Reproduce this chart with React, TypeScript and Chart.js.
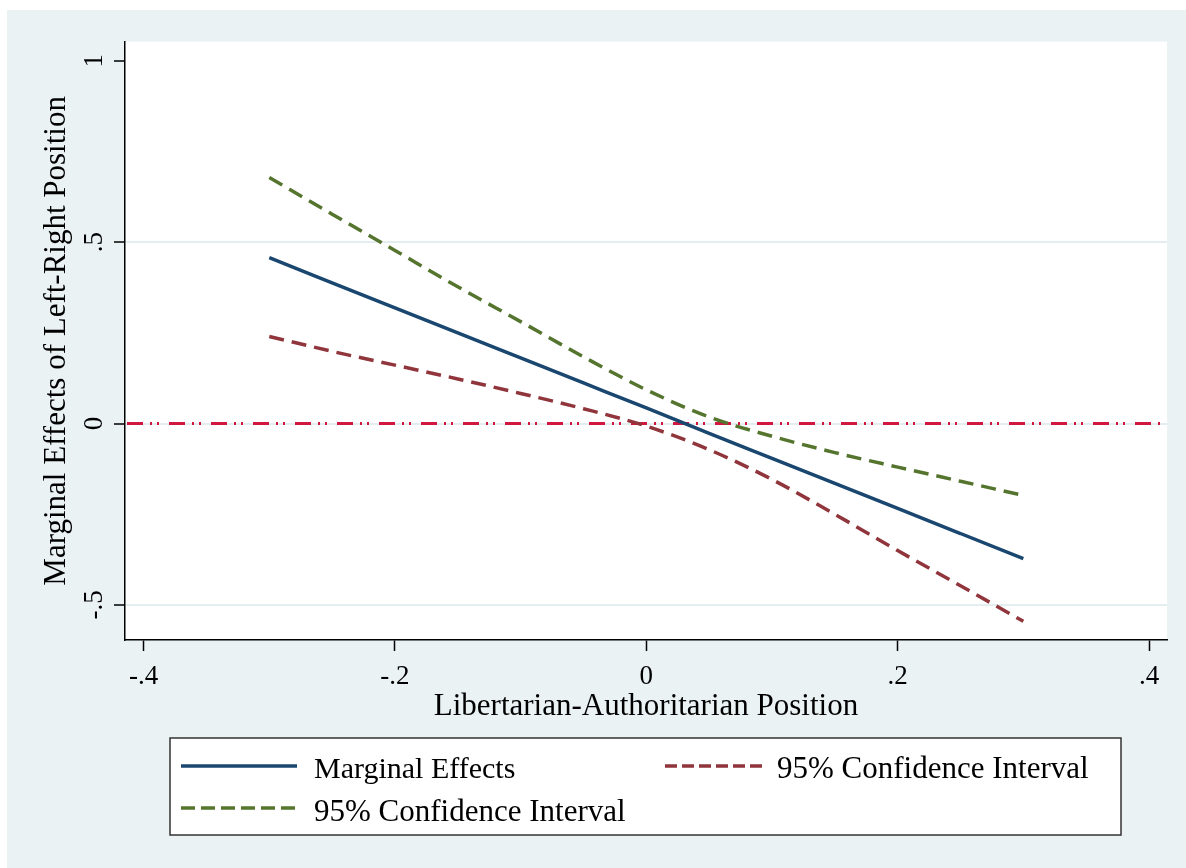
import React, { useEffect, useRef } from "react";
import { Chart, registerables } from "chart.js";

Chart.register(...registerables);

// ---- data ----
const xValues = [-0.3, -0.25, -0.2, -0.15, -0.1, -0.05, 0, 0.05, 0.1, 0.15, 0.2, 0.25, 0.3];
const marginalEffects = [0.457, 0.388, 0.319, 0.25, 0.181, 0.112, 0.043, -0.027, -0.096, -0.165, -0.234, -0.303, -0.372];
const upperCI = [0.678, 0.577, 0.477, 0.377, 0.281, 0.184, 0.093, 0.018, -0.035, -0.08, -0.12, -0.159, -0.198];
const lowerCI = [0.24, 0.199, 0.161, 0.123, 0.083, 0.041, -0.007, -0.072, -0.154, -0.25, -0.35, -0.447, -0.545];

const xTicks = [-0.4, -0.2, 0, 0.2, 0.4];
const xTickLabels = ["-.4", "-.2", "0", ".2", ".4"];
const yTicks = [-0.5, 0, 0.5, 1];
const yTickLabels = ["-.5", "0", ".5", "1"];

const xTitle = "Libertarian-Authoritarian Position";
const yTitle = "Marginal Effects of Left-Right Position";
const seriesLabels = ["Marginal Effects", "95% Confidence Interval", "95% Confidence Interval"];

// ---- styles ----
const FONT = '"Liberation Serif", "Times New Roman", serif';
const BG = "#eaf2f3";
const GRID = "#e4eef0";
const BLUE = "#1a476f";
const RED = "#90353b";
const GREEN = "#55752f";
const ZERO = "#d2173e";
const X_MIN = -0.4148;
const X_MAX = 0.4143;
const Y_MIN = -0.5965;
const Y_MAX = 1.0524;
const LW = 3.5;

const toPoints = (ys: number[]) => xValues.map((x, i) => ({ x, y: ys[i] }));

export default function App() {
  const ref = useRef<HTMLCanvasElement | null>(null);

  useEffect(() => {
    const canvas = ref.current;
    if (!canvas) return;

    const bgPlugin = {
      id: "plotBg",
      beforeDraw(chart: any) {
        const { ctx, chartArea } = chart;
        ctx.save();
        ctx.fillStyle = "#ffffff";
        ctx.fillRect(chartArea.left, chartArea.top, chartArea.right - chartArea.left, chartArea.bottom - chartArea.top);
        ctx.restore();
      },
    };

    const zeroLinePlugin = {
      id: "zeroLine",
      beforeDatasetsDraw(chart: any) {
        const { ctx, chartArea, scales } = chart;
        const y = scales.y.getPixelForValue(0);
        ctx.save();
        ctx.strokeStyle = ZERO;
        ctx.lineWidth = 3;
        ctx.setLineDash([16, 7, 2, 5, 2, 10]);
        ctx.beginPath();
        ctx.moveTo(chartArea.left + 2, y);
        ctx.lineTo(chartArea.right - 3, y);
        ctx.stroke();
        ctx.restore();
      },
    };

    const yLabelPlugin = {
      id: "yLabels",
      afterDraw(chart: any) {
        const { ctx, scales } = chart;
        ctx.save();
        ctx.fillStyle = "#000";
        ctx.font = `27px ${FONT}`;
        ctx.textAlign = "center";
        ctx.textBaseline = "alphabetic";
        yTicks.forEach((v, i) => {
          const y = scales.y.getPixelForValue(v);
          ctx.save();
          ctx.translate(95, y);
          ctx.rotate(-Math.PI / 2);
          ctx.fillText(yTickLabels[i], 0, 0);
          ctx.restore();
        });
        ctx.restore();
      },
    };

    const legendPlugin = {
      id: "customLegend",
      afterDraw(chart: any) {
        const { ctx } = chart;
        ctx.save();
        ctx.fillStyle = "#ffffff";
        ctx.fillRect(163, 728, 951, 97);
        ctx.strokeStyle = "#333333";
        ctx.lineWidth = 1.5;
        ctx.strokeRect(163, 728, 951, 97);

        const drawSample = (x1: number, x2: number, y: number, color: string, dash: number[]) => {
          ctx.save();
          ctx.strokeStyle = color;
          ctx.lineWidth = LW;
          ctx.setLineDash(dash);
          ctx.beginPath();
          ctx.moveTo(x1, y);
          ctx.lineTo(x2, y);
          ctx.stroke();
          ctx.restore();
        };
        drawSample(174, 290, 756, BLUE, []);
        drawSample(658, 755, 756, RED, [12, 5]);
        drawSample(174, 290, 798, GREEN, [14, 6]);

        ctx.fillStyle = "#000";
        ctx.font = `30px ${FONT}`;
        ctx.textAlign = "left";
        ctx.textBaseline = "alphabetic";
        ctx.fillText(seriesLabels[0], 307, 768);
        ctx.font = `31px ${FONT}`;
        ctx.fillText(seriesLabels[1], 770, 768);
        ctx.fillText(seriesLabels[2], 307, 811);
        ctx.restore();
      },
    };

    const chart = new Chart(canvas, {
      type: "line",
      data: {
        datasets: [
          {
            label: seriesLabels[0],
            data: toPoints(marginalEffects),
            borderColor: BLUE,
            borderWidth: LW,
            pointRadius: 0,
            cubicInterpolationMode: "monotone",
            fill: false,
          },
          {
            label: seriesLabels[1],
            data: toPoints(lowerCI),
            borderColor: RED,
            borderWidth: LW,
            borderDash: [15, 8],
            pointRadius: 0,
            cubicInterpolationMode: "monotone",
            fill: false,
          },
          {
            label: seriesLabels[2],
            data: toPoints(upperCI),
            borderColor: GREEN,
            borderWidth: LW,
            borderDash: [15, 8],
            pointRadius: 0,
            cubicInterpolationMode: "monotone",
            fill: false,
          },
        ],
      },
      options: {
        animation: false,
        responsive: false,
        maintainAspectRatio: false,
        devicePixelRatio: 1,
        layout: { padding: { top: 31.7, right: 19, left: 0, bottom: 0 } },
        plugins: {
          legend: { display: false },
          tooltip: { enabled: false },
        },
        scales: {
          x: {
            type: "linear",
            min: X_MIN,
            max: X_MAX,
            afterBuildTicks: (s: any) => {
              s.ticks = xTicks.map((v) => ({ value: v }));
            },
            afterFit: (s: any) => {
              s.height = 228;
            },
            grid: {
              drawOnChartArea: false,
              drawTicks: true,
              tickLength: 11,
              tickColor: "#000",
              tickWidth: 1.5,
              color: "#000",
            },
            border: { display: true, color: "#000", width: 1.5 },
            ticks: {
              color: "#000",
              font: { family: FONT, size: 27 },
              padding: 10,
              maxRotation: 0,
              minRotation: 0,
              autoSkip: false,
              callback: (_v: any, i: number) => xTickLabels[i],
            },
            title: {
              display: true,
              text: xTitle,
              color: "#000",
              font: { family: FONT, size: 31, lineHeight: 1.2 },
              padding: { top: 0, bottom: 143 },
            },
          },
          y: {
            type: "linear",
            min: Y_MIN,
            max: Y_MAX,
            afterBuildTicks: (s: any) => {
              s.ticks = yTicks.map((v) => ({ value: v }));
            },
            afterFit: (s: any) => {
              s.width = 118;
            },
            grid: {
              drawOnChartArea: true,
              drawTicks: true,
              tickLength: 11,
              tickColor: "#000",
              tickWidth: 1.5,
              lineWidth: 2,
              color: (ctx: any) => (ctx.tick && ctx.tick.value === 1 ? "rgba(0,0,0,0)" : GRID),
            },
            border: { display: true, color: "#000", width: 1.5 },
            ticks: { display: false },
            title: {
              display: true,
              text: yTitle,
              color: "#000",
              font: { family: FONT, size: 31, lineHeight: 1.2 },
              padding: { top: 31.4, bottom: 31.4 },
            },
          },
        },
      },
      plugins: [bgPlugin, zeroLinePlugin, yLabelPlugin, legendPlugin],
    } as any);

    return () => chart.destroy();
  }, []);

  return (
    <div
      style={{
        position: "absolute",
        left: 7,
        top: 10,
        width: 1179,
        height: 858,
        background: BG,
      }}
    >
      <canvas ref={ref} width={1179} height={858} style={{ display: "block", width: 1179, height: 858 }} />
    </div>
  );
}
